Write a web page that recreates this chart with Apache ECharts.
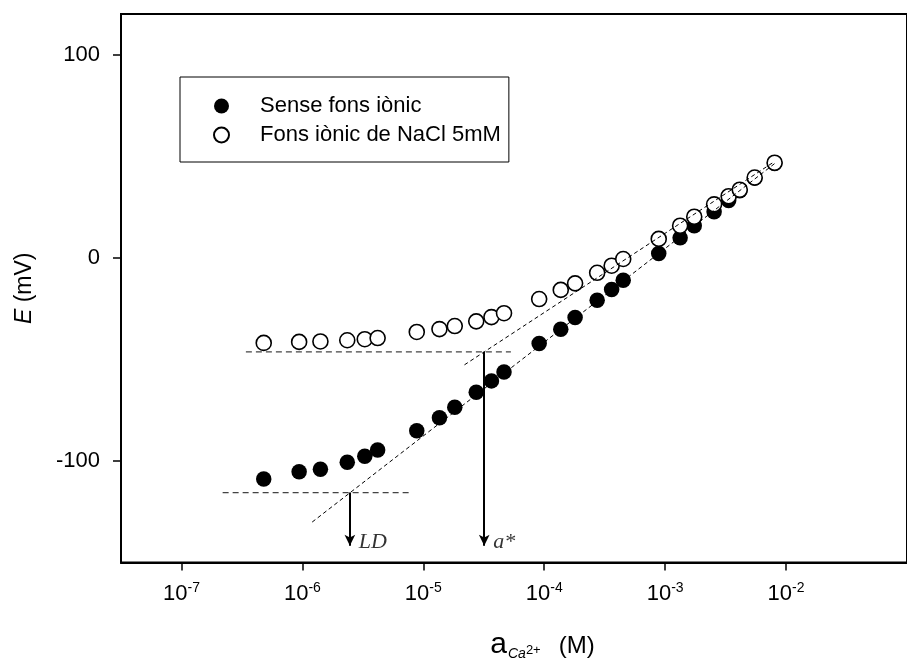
<!DOCTYPE html>
<html><head><meta charset="utf-8">
<script src="https://cdn.jsdelivr.net/npm/echarts@6/dist/echarts.min.js"></script>
<style>html,body{margin:0;padding:0;background:#fff}#c{width:907px;height:666px}</style>
</head><body><div id="c"></div>
<script>
// ---- data (activity in M, potential in mV) ----
const activity = [4.79e-7, 9.4e-7, 1.41e-6, 2.35e-6, 3.28e-6, 4.19e-6, 8.83e-6, 1.36e-5, 1.82e-5, 2.74e-5, 3.66e-5, 4.65e-5, 9.08e-5, 1.37e-4, 1.80e-4, 2.74e-4, 3.61e-4, 4.50e-4, 8.85e-4, 1.33e-3, 1.74e-3, 2.54e-3, 3.35e-3, 4.14e-3, 5.50e-3, 8.04e-3];
const eNoBackground = [-108.9, -105.3, -104.1, -100.7, -97.7, -94.6, -85.1, -78.7, -73.6, -66.2, -60.6, -56.2, -42.2, -35.2, -29.4, -20.9, -15.6, -11.1, 2.1, 9.8, 15.8, 22.7, 28.2, 33.0, 39.2, 46.4];
const eNaCl = [-41.9, -41.4, -41.2, -40.6, -40.1, -39.5, -36.5, -35.1, -33.6, -31.3, -29.2, -27.3, -20.3, -15.8, -12.6, -7.4, -3.9, -0.6, 9.3, 15.8, 20.2, 26.3, 30.3, 33.5, 39.5, 46.8];
const seriesNames = ['Sense fons iònic', 'Fons iònic de NaCl 5mM'];

// fitted Nernstian lines
const fitLowX = [1.205e-6, 8.3e-3];
const fitLowE = [-130.1, 47.0];
const fitHighX = [2.19e-5, 8.04e-3];
const fitHighE = [-52.7, 47.4];
// horizontal (plateau) lines
const plateauLowX = [2.19e-7, 7.64e-6];
const plateauLowE = [-115.6, -115.6];
const plateauHighX = [3.41e-7, 5.30e-5];
const plateauHighE = [-46.3, -46.3];
// markers: detection limit and a*
const markerNames = ['LD', 'a*'];
const markerX = [2.47e-6, 3.19e-5];
const markerTopE = [-115.6, -46.3];
const markerBottomE = [-141.8, -141.8];
const markerLabelE = -140;

// axes
const xTickExponents = [-7, -6, -5, -4, -3, -2];
const yTicks = [-100, 0, 100];

const pairs = (xs, ys) => xs.map((x, i) => [x, ys[i]]);
const FONT = 'Liberation Sans, Arial, sans-serif';

const chart = echarts.init(document.getElementById('c'), null, {renderer: 'canvas'});
const dashLine = (name, xs, ys, color, width, dash) => ({
  name, type: 'line', data: pairs(xs, ys), symbol: 'none', silent: true, z: 5,
  lineStyle: {color, width, type: dash}
});

chart.setOption({
  animation: false,
  backgroundColor: '#fff',
  grid: {left: 121, top: 14, right: -10, bottom: 95, show: true, borderColor: '#000', borderWidth: 2, containLabel: false},
  legend: {
    show: true, orient: 'vertical', left: 180, top: 77, data: seriesNames, selectedMode: false,
    borderColor: '#000', borderWidth: 1, padding: [16, 8, 14, 33], itemGap: 3,
    itemWidth: 15, itemHeight: 15,
    textStyle: {fontFamily: FONT, fontSize: 22, color: '#000', lineHeight: 26, padding: [0, 0, 0, 26]}
  },
  xAxis: {
    type: 'log', logBase: 10, min: Math.pow(10, -7.5), max: 0.1,
    axisLine: {onZero: false, lineStyle: {color: '#000', width: 2}},
    axisTick: {show: true, customValues: xTickExponents.map(e => Math.pow(10, e)), length: 8, lineStyle: {color: '#000', width: 1.5}},
    axisLabel: {
      customValues: xTickExponents.map(e => Math.pow(10, e)), margin: 19,
      formatter: v => '{b|10}{s|' + Math.round(Math.log10(v)) + '}',
      rich: {
        b: {fontFamily: FONT, fontSize: 22, color: '#000', lineHeight: 24},
        s: {fontFamily: FONT, fontSize: 14, color: '#000', verticalAlign: 'top', lineHeight: 14}
      }
    },
    splitLine: {show: false},
    name: '{a|a}{c|Ca}{p|2+}{m|(M)}', nameLocation: 'middle', nameGap: 50,
    nameTextStyle: {
      rich: {
        a: {fontFamily: FONT, fontSize: 30, color: '#000', lineHeight: 50, padding: [13.6, 0, 0, 57]},
        c: {fontFamily: FONT, fontSize: 14, fontStyle: 'italic', color: '#000', lineHeight: 50, padding: [33, 0, 0, 1]},
        p: {fontFamily: FONT, fontSize: 13, color: '#000', lineHeight: 50, padding: [26, 0, 0, 0]},
        m: {fontFamily: FONT, fontSize: 24, color: '#000', lineHeight: 50, padding: [18.7, 0, 0, 18]}
      }
    }
  },
  yAxis: {
    type: 'value', min: -150, max: 120,
    axisLine: {onZero: false, lineStyle: {color: '#000', width: 2}},
    axisTick: {customValues: yTicks, length: 8, lineStyle: {color: '#000', width: 1.5}},
    axisLabel: {customValues: yTicks, margin: 21, fontFamily: FONT, fontSize: 22, color: '#000'},
    splitLine: {show: false},
    name: '{i|E}{n| (mV)}', nameLocation: 'middle', nameGap: 85,
    nameTextStyle: {
      rich: {
        i: {fontFamily: FONT, fontSize: 23, fontStyle: 'italic', color: '#000'},
        n: {fontFamily: FONT, fontSize: 23, color: '#000'}
      }
    }
  },
  series: [
    {name: seriesNames[0], type: 'scatter', data: pairs(activity, eNoBackground), symbol: 'circle', symbolSize: 15.5, z: 2,
     itemStyle: {color: '#000', opacity: 1}},
    {name: seriesNames[1], type: 'scatter', data: pairs(activity, eNaCl), symbol: 'circle', symbolSize: 15, z: 3,
     itemStyle: {color: '#fff', borderColor: '#000', borderWidth: 1.6, opacity: 1}},
    dashLine('fitLow', fitLowX, fitLowE, '#000', 1, [4, 3]),
    dashLine('fitHigh', fitHighX, fitHighE, '#000', 1, [4, 3]),
    dashLine('plateauLow', plateauLowX, plateauLowE, '#444', 1.3, [6, 4]),
    Object.assign(dashLine('plateauHigh', plateauHighX, plateauHighE, '#444', 1.3, [6, 4]), {
      markLine: {
        silent: true, symbol: ['none', 'arrow'], symbolSize: [8, 11], label: {show: false},
        lineStyle: {color: '#000', width: 2, type: 'solid'},
        data: markerX.map((x, i) => [{coord: [x, markerTopE[i]]}, {coord: [x, markerBottomE[i]]}])
      }
    }),
    {name: 'labels', type: 'scatter', symbolSize: 0, silent: true, z: 6,
     itemStyle: {color: 'transparent'},
     data: markerX.map((x, i) => ({name: markerNames[i], value: [x, markerLabelE]})),
     label: {show: true, position: 'right', distance: 9, formatter: '{b}',
       fontFamily: 'Liberation Serif, Times New Roman, serif', fontStyle: 'italic', fontSize: 22, color: '#000'}}
  ]
});
</script></body></html>
